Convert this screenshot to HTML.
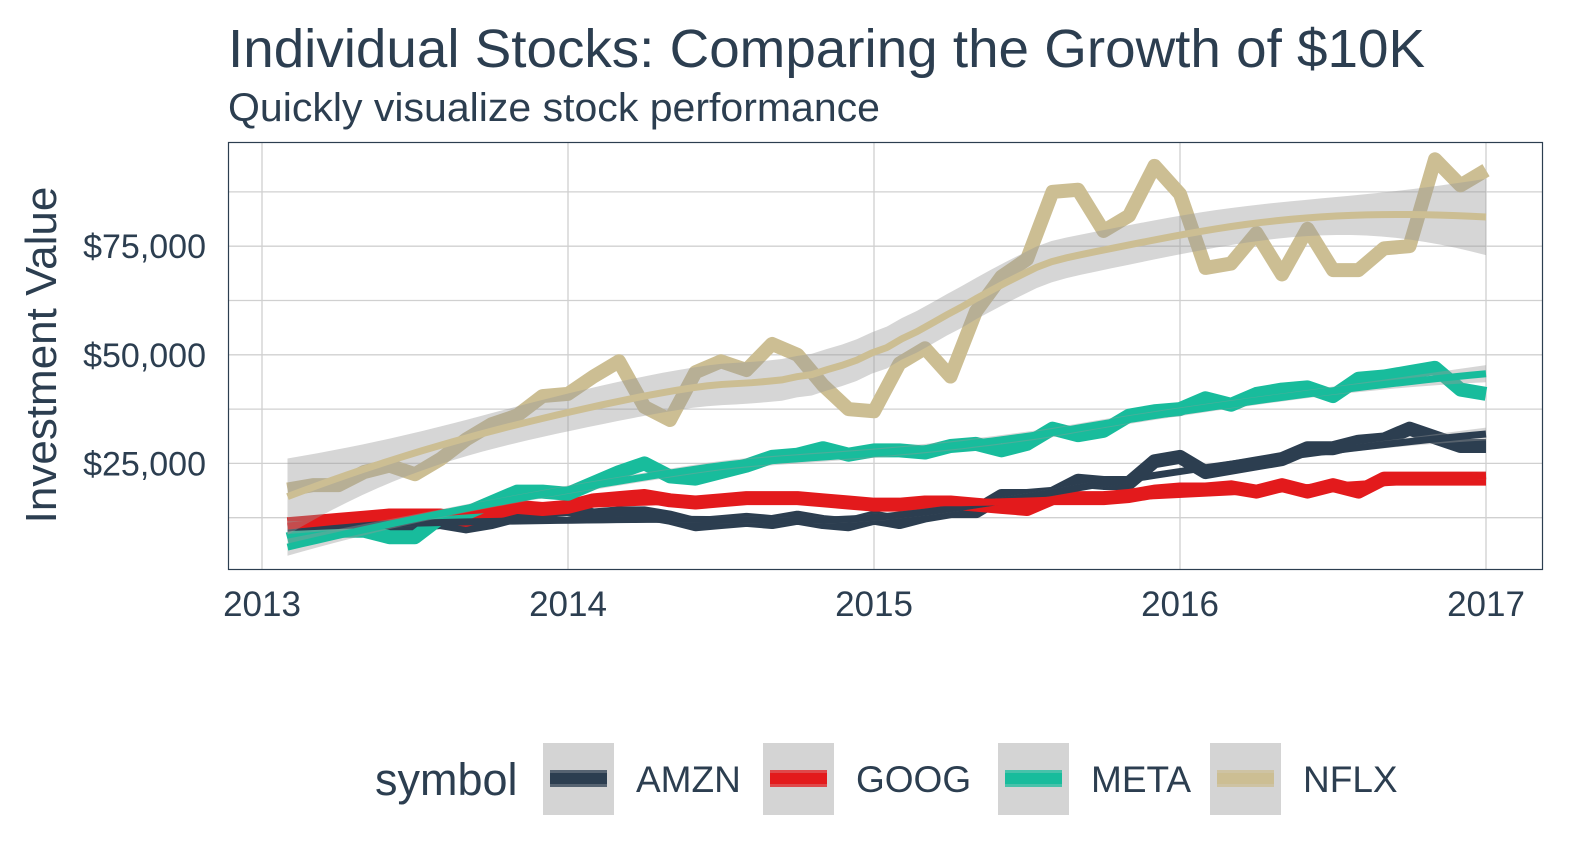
<!DOCTYPE html>
<html><head><meta charset="utf-8"><style>
body{margin:0;background:#fff}
svg{display:block;font-family:"Liberation Sans",sans-serif}
</style></head><body>
<svg id="chart" width="1572" height="863" viewBox="0 0 1572 863">
<text x="228" y="67" font-size="54" textLength="1197" lengthAdjust="spacingAndGlyphs" fill="#2c3e50">Individual Stocks: Comparing the Growth of $10K</text>
<text x="228" y="121" font-size="40" textLength="652" lengthAdjust="spacingAndGlyphs" fill="#2c3e50">Quickly visualize stock performance</text>
<text transform="translate(56,355) rotate(-90)" text-anchor="middle" font-size="44" fill="#2c3e50">Investment Value</text>
<g id="grid"></g>
<g id="marks"></g>
<rect x="228.5" y="142.5" width="1314" height="427" fill="none" stroke="#2c3e50" stroke-width="1.2"/>
<g id="axes"></g>
<g id="legend">
<text x="375" y="795" font-size="45" fill="#2c3e50">symbol</text>
</g>
</svg>
<script>
const symbols = ["AMZN","GOOG","META","NFLX"];
const colors = ["#2c3e50","#e31a1c","#18bc9c","#ccbe93"];
const startYear = 2013 + 1/12;
const amzn = [10000,10000,10500,10500,11000,11000,11500,10500,11500,13000,14000,14500,
  13000,13500,13500,12500,11000,11500,12000,11500,12500,11500,11000,12500,
  11500,13000,14000,14000,17500,17500,18000,21000,20500,20500,25500,26500,
  23000,24000,25000,26000,28500,28500,30000,30500,33000,31000,29000,29000];
const goog = [11000,11500,12000,12500,13000,13000,13000,12000,13500,15000,14500,15000,
  16500,17000,17500,16500,16000,16500,17000,17000,17000,16500,16000,15500,
  15500,16000,16000,15500,15000,14500,17000,17000,17000,17500,18500,19000,
  19000,19500,18500,20000,18500,20000,18500,21500,21500,21500,21500,21500];
const meta = [7500,9000,9500,9500,8000,8000,12500,13500,16000,18500,18500,18000,
  20500,23000,25000,22000,21500,23000,24500,26500,27000,28500,27000,28000,
  28000,27500,29000,29500,28000,29500,33000,31500,32500,36000,37000,37500,
  40000,38500,41000,42000,42500,40500,44500,45000,46000,47000,42000,41000];
const nflx = [19000,20000,20000,23000,24500,22500,26000,30500,34000,36000,40500,41000,
  45000,48500,38000,35000,46000,48500,46500,52500,50000,43000,37500,37000,
  48000,51500,45000,60000,68000,72000,87500,88000,78500,82000,93500,87000,
  70000,71000,78000,68500,79000,69500,69500,74500,75000,95000,89000,92500];
const series = [amzn,goog,meta,nflx];
const yTicks = [25000,50000,75000];
const yMinor = [12500,37500,62500,87500];
const xTicks = [2013,2014,2015,2016,2017];

const NS="http://www.w3.org/2000/svg";
const xS = y => 262 + (y-2013)*306;
const yS = v => 572 - v*108.6/25000;
function mk(tag, attrs, parent){const e=document.createElementNS(NS,tag);for(const k in attrs)e.setAttribute(k,attrs[k]);parent.appendChild(e);return e;}
const grid=document.getElementById('grid'), marks=document.getElementById('marks'), axes=document.getElementById('axes'), legend=document.getElementById('legend');

yMinor.concat(yTicks).forEach(v=>{
  const l=mk('line',{x1:228,x2:1542,y1:yS(v),y2:yS(v),stroke:'#d0d0d0','stroke-width':1.3},grid);
  
  
});
xTicks.forEach(y=>{
  const l=mk('line',{x1:xS(y),x2:xS(y),y1:142,y2:569,stroke:'#d0d0d0','stroke-width':1.3},grid);
  
  
  const t=mk('text',{x:xS(y),y:616,'text-anchor':'middle','font-size':35,fill:'#2c3e50'},axes);
  t.textContent=y;
  
  
});
yTicks.forEach(v=>{
  const t=mk('text',{x:206,y:yS(v)+12,'text-anchor':'end','font-size':34,fill:'#2c3e50'},axes);
  t.textContent='$'+v.toLocaleString('en-US');
  
  
});

function solve3(A,b){
  const M=A.map((r,i)=>r.concat([b[i]]));
  for(let i=0;i<3;i++){let p=i;for(let j=i+1;j<3;j++)if(Math.abs(M[j][i])>Math.abs(M[p][i]))p=j;[M[i],M[p]]=[M[p],M[i]];
    for(let j=0;j<3;j++){if(j===i)continue;const f=M[j][i]/M[i][i];for(let k=i;k<4;k++)M[j][k]-=f*M[i][k];}}
  return [M[0][3]/M[0][0],M[1][3]/M[1][1],M[2][3]/M[2][2]];
}
function loess(xs,ys,x0){
  const n=xs.length,q=Math.ceil(0.75*n);
  const d=xs.map(x=>Math.abs(x-x0)).slice().sort((a,b)=>a-b);const h=d[q-1]*1.0001;
  const w=xs.map(x=>{const u=Math.abs(x-x0)/h;return u<1?Math.pow(1-u*u*u,3):0;});
  const A=[[0,0,0],[0,0,0],[0,0,0]];
  for(let i=0;i<n;i++){const z=[1,xs[i]-x0,(xs[i]-x0)**2];for(let a=0;a<3;a++)for(let b=0;b<3;b++)A[a][b]+=w[i]*z[a]*z[b];}
  const inv=[0,1,2].map(c=>solve3(A,[0,1,2].map(r=>r===c?1:0)));
  let fit=0,ss=0;
  for(let i=0;i<n;i++){const z=[1,xs[i]-x0,(xs[i]-x0)**2];let l=0;for(let a=0;a<3;a++)l+=inv[a][0]*z[a];l*=w[i];fit+=l*ys[i];ss+=l*l;}
  return [fit,Math.sqrt(ss)];
}

const names=['amzn','goog','meta','nflx'];
series.forEach((vals,s)=>{
  const xs=vals.map((v,i)=>startYear+i/12);
  const p=mk('polyline',{points:vals.map((v,i)=>xS(xs[i])+','+yS(v)).join(' '),fill:'none',stroke:colors[s],'stroke-width':14,'stroke-linejoin':'round'},marks);
  
  
});
series.forEach((vals,s)=>{
  const xs=vals.map((v,i)=>startYear+i/12);
  const fits=xs.map(x=>loess(xs,vals,x)[0]);
  let rss=0;vals.forEach((v,i)=>rss+=(v-fits[i])**2);
  const sigma=Math.sqrt(rss/(vals.length-5));
  const g=[];for(let k=0;k<=80;k++)g.push(xs[0]+(xs[xs.length-1]-xs[0])*k/80);
  const res=g.map(x=>loess(xs,vals,x));
  const up=g.map((x,k)=>xS(x)+','+yS(res[k][0]+2.01*sigma*res[k][1]));
  const lo=g.map((x,k)=>xS(x)+','+yS(res[k][0]-2.01*sigma*res[k][1])).reverse();
  const r=mk('polygon',{points:up.concat(lo).join(' '),fill:'#999','fill-opacity':0.4},marks);
  
  
  const ln=mk('polyline',{points:g.map((x,k)=>xS(x)+','+yS(res[k][0])).join(' '),fill:'none',stroke:colors[s],'stroke-width':7},marks);
  
  
});

const keyX=[543,763,998,1210];
symbols.forEach((sym,s)=>{
  const b=mk('rect',{x:keyX[s],y:743,width:71,height:72,fill:'#d4d4d4'},legend);
  
  
  const l=mk('rect',{x:keyX[s]+7,y:770,width:57,height:17,fill:colors[s],'fill-opacity':0.75},legend);
  
  
  const l2=mk('rect',{x:keyX[s]+7,y:773,width:57,height:11,fill:colors[s]},legend);
  
  
  const t=mk('text',{x:keyX[s]+93,y:792,'font-size':37,fill:'#2c3e50'},legend);
  t.textContent=sym;
  
  
});
</script>
</body></html>
